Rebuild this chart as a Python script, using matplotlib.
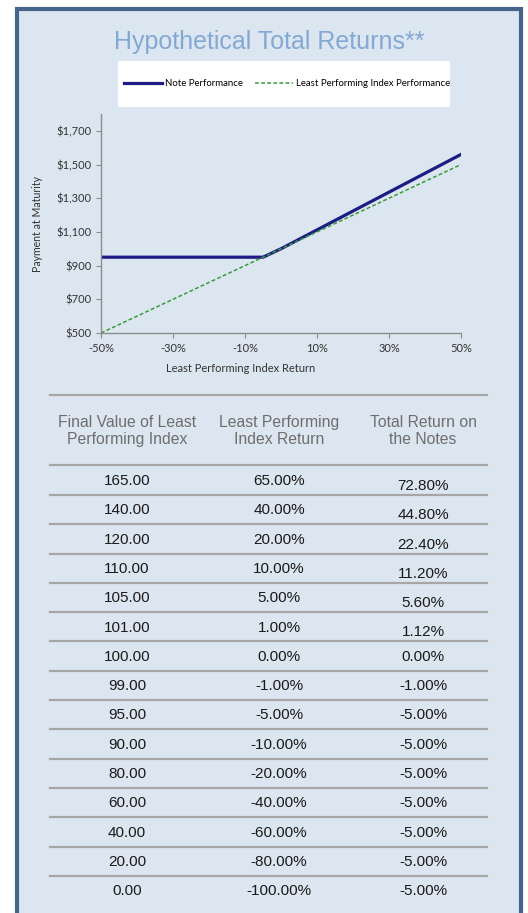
import matplotlib.pyplot as plt
from matplotlib.patches import Rectangle
from matplotlib.lines import Line2D

# Chart data
note_x = [-50, -5, 0, 50]
note_y = [950, 950, 1000, 1560]
index_x = [-50, 50]
index_y = [500, 1500]
x_ticks = [-50, -30, -10, 10, 30, 50]
y_ticks = [500, 700, 900, 1100, 1300, 1500, 1700]

# Table data
headers = ["Final Value of Least\nPerforming Index",
           "Least Performing\nIndex Return",
           "Total Return on\nthe Notes"]
final_values = ["165.00", "140.00", "120.00", "110.00", "105.00", "101.00", "100.00",
                "99.00", "95.00", "90.00", "80.00", "60.00", "40.00", "20.00", "0.00"]
index_returns = ["65.00%", "40.00%", "20.00%", "10.00%", "5.00%", "1.00%", "0.00%",
                 "-1.00%", "-5.00%", "-10.00%", "-20.00%", "-40.00%", "-60.00%",
                 "-80.00%", "-100.00%"]
note_returns = ["72.80%", "44.80%", "22.40%", "11.20%", "5.60%", "1.12%", "0.00%",
                "-1.00%", "-5.00%", "-5.00%", "-5.00%", "-5.00%", "-5.00%",
                "-5.00%", "-5.00%"]

W, H = 528, 913
fig = plt.figure(figsize=(W / 100, H / 100), dpi=100)
fig.patch.set_facecolor('white')

# background layer in pixel coordinates
bg = fig.add_axes([0, 0, 1, 1])
bg.set_xlim(0, W)
bg.set_ylim(H, 0)
bg.axis('off')
bg.add_patch(Rectangle((17, 9), 504, 920, facecolor='#dce6f0',
                       edgecolor='#46648c', linewidth=3))

bg.text(269, 42, "Hypothetical Total Returns**", color='#84a8d4',
        fontsize=18, family='Liberation Sans', ha='center', va='center')

# legend box
bg.add_patch(Rectangle((118, 61), 332, 46, facecolor='white', edgecolor='none'))

# table
cols = [127, 279, 423]
line_kw = dict(color='#a6a6a6', linewidth=1.6)
bg.add_line(Line2D([50, 487], [395, 395], **line_kw))
bg.add_line(Line2D([50, 487], [465, 465], **line_kw))
for cx, h in zip(cols, headers):
    bg.text(cx, 431, h, ha='center', va='center', color='#6e6e6e',
            fontsize=11.3, family='Liberation Sans', linespacing=1.2)

row_h = 29.3
for i in range(len(final_values)):
    yc = 481 + i * row_h
    kw = dict(ha='center', va='center', color='#1a1a1a', fontsize=11,
              family='Liberation Sans')
    bg.text(cols[0], yc, final_values[i], **kw)
    bg.text(cols[1], yc, index_returns[i], **kw)
    shift = 5 if not note_returns[i].startswith(('-', '0')) else 0
    bg.text(cols[2], yc + shift, note_returns[i], **kw)
    if i < len(final_values) - 1:
        ly = 495 + i * row_h
        bg.add_line(Line2D([50, 487], [ly, ly], **line_kw))

# chart
ax = fig.add_axes([101 / W, (H - 333) / H, 360 / W, 219 / H])
ax.set_facecolor('none')
ax.plot(note_x, note_y, color='#1c1c84', linewidth=2.3, label='Note Performance')
ax.plot(index_x, index_y, color='#3a9a3a', linewidth=1.1, linestyle=(0, (2.5, 1.5)),
        label='Least Performing Index Performance')
ax.set_xlim(-50, 50)
ax.set_ylim(500, 1800)
ax.set_xticks(x_ticks)
ax.set_xticklabels([f"{t}%" for t in x_ticks])
ax.set_yticks(y_ticks)
ax.set_yticklabels([f"${t:,}" for t in y_ticks])
for s in ['top', 'right']:
    ax.spines[s].set_visible(False)
for s in ['left', 'bottom']:
    ax.spines[s].set_color('#8c8c8c')
    ax.spines[s].set_linewidth(1.0)
ax.tick_params(axis='both', colors='#8c8c8c', labelcolor='#333333', labelsize=8,
               length=3.5, width=0.8)
for lab in ax.get_xticklabels() + ax.get_yticklabels():
    lab.set_family('Lato')
ax.set_xlabel("Least Performing Index Return", fontsize=8, family='Lato',
              color='#333333')
ax.xaxis.set_label_coords(140 / 360, -0.135)
ax.set_ylabel("Payment at Maturity", fontsize=7.6, family='Lato',
              color='#333333')
ax.yaxis.set_label_coords(-58 / 360, 0.5)

leg = ax.legend(loc='center', bbox_to_anchor=(287 / W, (H - 84) / H),
                bbox_transform=fig.transFigure, ncol=2, frameon=False,
                prop={'family': 'Lato', 'size': 6.9}, handlelength=4.0,
                handletextpad=0.3, columnspacing=1.2)

fig.savefig('out.png', dpi=100)
